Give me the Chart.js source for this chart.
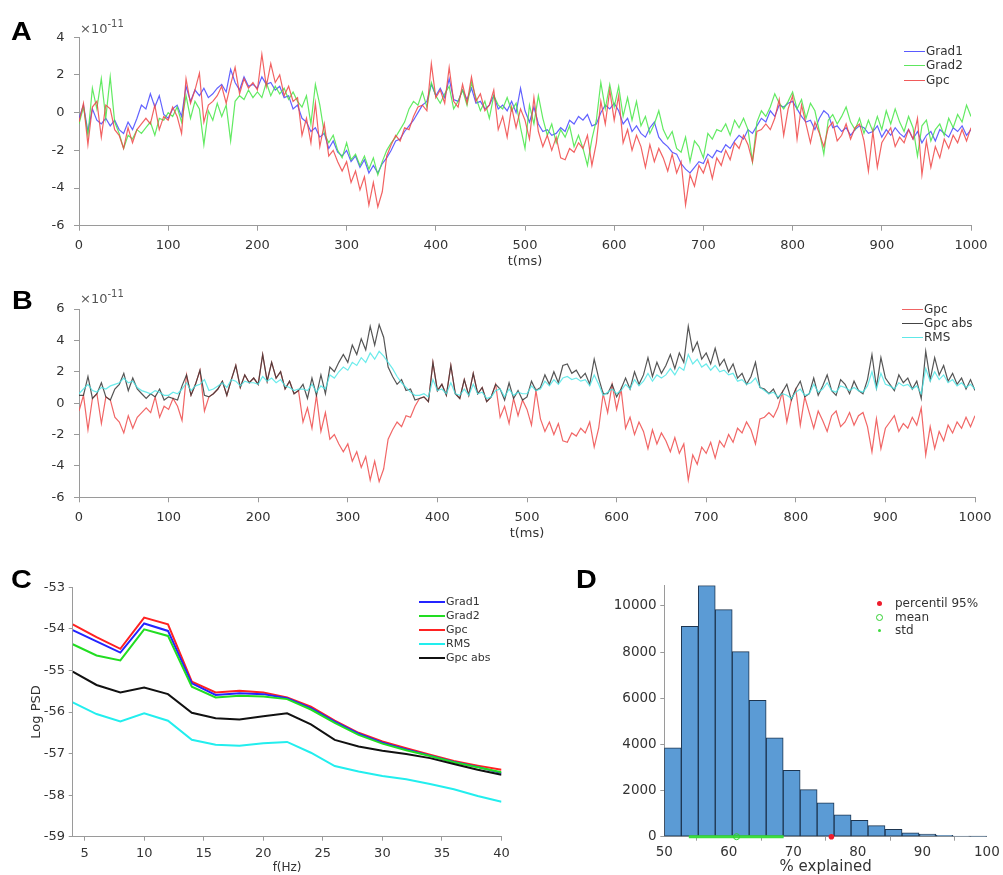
<!DOCTYPE html>
<html>
<head>
<meta charset="utf-8">
<script src="https://cdn.jsdelivr.net/npm/chart.js@4.4.1/dist/chart.umd.min.js"></script>
<style>
html,body{margin:0;padding:0;width:1003px;height:875px;overflow:hidden;background:#fff;}
canvas{position:absolute;left:0;top:0;}
.ov{position:absolute;white-space:nowrap;font-family:'DejaVu Sans',sans-serif;color:#333;}
.letter{position:absolute;font-family:'Liberation Sans',Arial,sans-serif;font-weight:bold;font-size:25px;line-height:25px;color:#000;transform:scaleX(1.15);transform-origin:left top;}
</style>
</head>
<body>
<canvas id="cA" width="1003" height="900"></canvas>
<canvas id="cB" width="1003" height="900"></canvas>
<canvas id="cC" width="1003" height="900"></canvas>
<canvas id="cD" width="1003" height="900"></canvas>
<div id="ov"></div>
<script>
// ---------- time axis (ms) ----------
const tMs = [
0,5,10,15,20,25,30,35,40,45,50,55,60,65,70,75,80,85,90,95,
100,105,110,115,120,125,130,135,140,145,150,155,160,165,170,175,180,185,190,195,
200,205,210,215,220,225,230,235,240,245,250,255,260,265,270,275,280,285,290,295,
300,305,310,315,320,325,330,335,340,345,350,355,360,365,370,375,380,385,390,395,
400,405,410,415,420,425,430,435,440,445,450,455,460,465,470,475,480,485,490,495,
500,505,510,515,520,525,530,535,540,545,550,555,560,565,570,575,580,585,590,595,
600,605,610,615,620,625,630,635,640,645,650,655,660,665,670,675,680,685,690,695,
700,705,710,715,720,725,730,735,740,745,750,755,760,765,770,775,780,785,790,795,
800,805,810,815,820,825,830,835,840,845,850,855,860,865,870,875,880,885,890,895,
900,905,910,915,920,925,930,935,940,945,950,955,960,965,970,975,980,985,990,995,1000];

// ---------- panel A/B series (x 1e-11) ----------
const gpc = [
-0.5,0.5,-1.7,0.3,0.6,-1.3,0.4,0.2,-0.9,-1.2,-1.9,-0.8,-1.6,-0.9,-0.6,-0.3,-0.6,0.4,-0.9,-0.2,
-0.4,0.3,-0.2,-1.1,1.8,0.5,1.2,2.1,-0.5,0.4,0.6,0.9,1.4,0.5,1.5,2.4,1.0,1.8,1.3,1.6,
1.2,3.1,1.4,2.6,1.6,2.0,0.9,1.4,0.6,0.8,-1.2,-0.3,-1.6,0.5,-1.8,-0.6,-2.3,-2.0,-2.6,-3.1,
-2.6,-3.7,-3.1,-4.1,-3.4,-4.9,-3.7,-5.0,-4.2,-2.3,-1.7,-1.2,-1.5,-0.8,-0.9,-0.2,0.3,0.4,0.1,2.6,
0.8,1.2,0.5,2.4,0.6,0.3,1.5,0.5,1.9,0.6,1.0,0.1,0.4,1.2,-0.9,-0.2,-1.3,0.3,-0.8,0.2,
-0.4,-1.4,0.8,-1.0,-1.8,-1.2,-2.0,-1.3,-2.4,-2.5,-1.9,-2.1,-1.6,-1.9,-1.2,-2.8,-1.6,0.6,-0.6,1.2,
-0.4,0.9,-1.6,-0.9,-2.0,-1.2,-1.8,-2.9,-1.7,-2.6,-1.9,-2.4,-3.1,-2.2,-3.2,-2.6,-4.9,-3.3,-3.9,-2.8,
-3.2,-2.5,-3.5,-2.4,-2.8,-2.0,-2.5,-1.6,-1.9,-1.2,-1.7,-2.6,-1.0,-0.9,-0.6,-0.9,-0.3,0.7,-1.2,0.2,
0.9,-1.4,0.4,-0.6,-1.6,-0.5,-1.1,-1.8,-0.8,-0.5,-1.5,-1.2,-0.6,-1.4,-0.8,-0.6,-1.5,-3.1,-1.0,-2.9,
-1.6,-1.2,-0.8,-1.8,-1.3,-1.6,-0.9,-1.4,-0.3,-3.3,-1.5,-2.9,-1.8,-2.4,-1.4,-1.9,-1.2,-1.6,-0.9,-1.5,-0.8];

const gpcAbs = [
0.5,0.5,1.7,0.3,0.6,1.3,0.4,0.2,0.9,1.2,1.9,0.8,1.6,0.9,0.6,0.3,0.6,0.4,0.9,0.2,
0.4,0.3,0.2,1.1,1.8,0.5,1.2,2.1,0.5,0.4,0.6,0.9,1.4,0.5,1.5,2.4,1.0,1.8,1.3,1.6,
1.2,3.1,1.4,2.6,1.6,2.0,0.9,1.4,0.6,0.8,1.2,0.3,1.6,0.5,1.8,0.6,2.3,2.0,2.6,3.1,
2.6,3.7,3.1,4.1,3.4,4.9,3.7,5.0,4.2,2.3,1.7,1.2,1.5,0.8,0.9,0.2,0.3,0.4,0.1,2.6,
0.8,1.2,0.5,2.4,0.6,0.3,1.5,0.5,1.9,0.6,1.0,0.1,0.4,1.2,0.9,0.2,1.3,0.3,0.8,0.2,
0.4,1.4,0.8,1.0,1.8,1.2,2.0,1.3,2.4,2.5,1.9,2.1,1.6,1.9,1.2,2.8,1.6,0.6,0.6,1.2,
0.4,0.9,1.6,0.9,2.0,1.2,1.8,2.9,1.7,2.6,1.9,2.4,3.1,2.2,3.2,2.6,4.9,3.3,3.9,2.8,
3.2,2.5,3.5,2.4,2.8,2.0,2.5,1.6,1.9,1.2,1.7,2.6,1.0,0.9,0.6,0.9,0.3,0.7,1.2,0.2,
0.9,1.4,0.4,0.6,1.6,0.5,1.1,1.8,0.8,0.5,1.5,1.2,0.6,1.4,0.8,0.6,1.5,3.1,1.0,2.9,
1.6,1.2,0.8,1.8,1.3,1.6,0.9,1.4,0.3,3.3,1.5,2.9,1.8,2.4,1.4,1.9,1.2,1.6,0.9,1.5,0.8];

const grad1 = [
-0.3,0.4,-1.0,0.2,-0.4,-0.6,-0.3,-0.7,-0.4,-0.9,-1.1,-0.5,-0.9,-0.3,0.4,0.2,1.0,0.3,0.9,-0.1,
-0.3,0.2,0.4,-0.2,1.4,0.6,1.2,0.9,1.3,0.8,1.0,1.3,1.5,1.1,2.3,1.6,1.2,1.9,1.4,1.5,
1.3,1.9,1.5,1.6,1.2,1.4,0.8,0.9,0.2,0.4,-0.3,-0.5,-1.0,-0.8,-1.3,-1.1,-1.9,-1.5,-2.1,-2.3,
-2.0,-2.6,-2.3,-2.9,-2.5,-3.2,-2.8,-3.2,-2.7,-2.4,-2.0,-1.5,-1.4,-1.0,-0.7,-0.4,0.0,0.4,0.6,1.5,
0.9,1.3,0.8,1.8,0.7,0.6,1.2,0.7,1.3,0.5,0.6,0.2,0.4,0.9,0.2,0.4,0.1,0.6,0.0,1.3,
0.1,-0.5,0.3,-0.6,-1.0,-0.9,-1.2,-1.1,-0.8,-1.0,-0.4,-0.6,-0.2,-0.4,-0.1,-0.7,-0.6,0.0,0.4,0.2,
0.5,0.1,-0.6,-0.3,-1.0,-0.7,-1.1,-1.3,-0.8,-0.5,-1.3,-1.6,-1.8,-2.1,-2.2,-2.7,-3.0,-3.2,-2.9,-2.6,
-2.7,-2.2,-2.4,-2.0,-2.1,-1.7,-1.9,-1.5,-1.2,-1.4,-0.9,-1.1,-0.7,-0.3,-0.5,0.1,-0.2,0.4,0.3,0.5,
0.6,0.2,-0.2,-0.5,-0.4,-0.9,-0.3,0.1,-0.1,-0.8,-0.7,-1.0,-0.8,-1.2,-0.9,-0.7,-0.8,-1.1,-1.0,-0.7,
-1.3,-0.9,-1.2,-0.8,-1.1,-1.3,-0.9,-1.4,-1.0,-1.6,-1.2,-1.0,-1.5,-0.9,-1.1,-1.3,-0.8,-1.0,-0.7,-1.2,-0.9];

const grad2 = [
-0.6,0.3,-1.2,1.3,0.2,1.8,-0.3,1.9,-0.5,-1.1,-1.9,-1.2,-1.4,-0.9,-1.1,-0.8,-0.5,-1.2,-0.3,-0.4,
0.0,-0.2,0.3,-0.5,0.9,-0.3,0.6,0.2,-1.7,0.1,-0.4,0.5,-0.2,0.4,-1.5,0.6,0.9,0.7,1.2,0.8,
1.1,0.8,1.6,0.9,1.4,1.0,1.3,0.7,1.1,0.6,0.3,0.9,-0.6,1.5,0.4,-1.1,-1.6,-1.2,-2.0,-2.4,
-1.6,-2.5,-2.2,-2.8,-2.3,-3.0,-2.4,-3.3,-2.6,-2.0,-1.6,-1.3,-0.9,-0.5,0.2,0.6,0.4,1.1,0.3,1.6,
0.9,0.5,1.0,1.4,0.2,0.6,1.2,0.4,1.6,0.8,0.1,0.6,-0.3,0.9,0.4,0.2,0.8,0.1,0.5,-0.8,
-1.9,0.4,-0.6,0.9,-0.3,-1.2,-0.6,-1.6,-0.9,-1.3,-0.7,-1.8,-1.2,-1.9,-2.8,-1.4,-0.4,1.6,0.2,1.5,
0.3,1.4,-0.2,0.8,-0.4,0.6,-0.7,-0.2,-1.1,-0.6,0.1,-0.9,-1.4,-1.0,-1.9,-2.1,-1.3,-2.6,-1.5,-1.8,
-2.4,-1.1,-1.4,-0.9,-1.0,-0.6,-1.2,-0.4,-0.8,-0.3,-0.9,-2.6,-0.5,0.1,-0.2,0.3,1.0,0.5,0.2,0.6,
1.1,0.2,0.7,-0.3,0.5,0.1,-1.0,-2.2,-0.4,-0.1,-0.6,-0.2,0.3,-0.5,-0.9,-0.3,-1.1,-0.4,-1.0,-0.2,
-0.9,0.1,-0.6,0.2,-0.5,-1.0,-0.2,-0.8,-2.3,-0.7,-0.4,-1.5,-0.9,-0.6,-1.2,-0.3,-0.8,-0.1,-0.5,0.4,-0.2];

const rms = [
0.6,0.9,1.2,0.8,0.7,1.0,0.9,1.1,1.2,1.3,1.6,1.3,1.4,1.0,0.8,0.7,0.6,0.8,0.7,0.5,
0.5,0.7,0.6,0.9,1.3,0.8,1.1,1.2,1.5,0.8,0.9,1.1,1.3,1.0,1.5,1.4,1.1,1.4,1.3,1.3,
1.2,1.7,1.4,1.6,1.3,1.5,1.1,1.0,0.8,0.9,0.9,0.8,1.2,0.7,1.1,0.9,1.8,1.6,2.0,2.3,
2.1,2.6,2.4,2.9,2.6,3.2,2.8,3.3,3.0,2.6,2.2,1.7,1.3,1.0,0.7,0.5,0.5,0.6,0.4,1.5,
0.8,0.9,0.6,1.3,0.6,0.5,0.9,0.5,1.2,0.6,0.7,0.3,0.4,0.8,0.9,0.4,0.9,0.5,0.7,0.6,
0.6,1.1,0.8,0.9,1.4,1.1,1.5,1.2,1.6,1.7,1.5,1.6,1.4,1.5,1.1,1.8,1.2,0.5,0.7,0.9,
0.6,0.8,1.2,0.9,1.5,1.1,1.4,1.9,1.4,1.8,1.6,1.8,2.2,1.8,2.3,2.1,3.1,2.5,2.8,2.3,
2.5,2.1,2.4,2.0,2.1,1.8,1.9,1.4,1.5,1.2,1.3,1.6,1.0,0.8,0.6,0.7,0.4,0.6,0.5,0.3,
0.7,0.9,0.5,0.6,1.2,0.7,0.9,1.3,0.8,0.7,1.1,1.0,0.8,1.0,0.8,0.7,1.1,2.0,0.9,1.9,
1.2,1.1,0.9,1.3,1.1,1.2,0.9,1.1,0.6,2.2,1.4,2.0,1.5,1.8,1.3,1.5,1.1,1.3,1.0,1.2,0.9];

const timeTicks = [0,100,200,300,400,500,600,700,800,900,1000];
const aYTicks = [-6,-4,-2,0,2,4];
const bYTicks = [-6,-4,-2,0,2,4,6];

// ---------- panel C (PSD) ----------
const cFreq = [4,6,8,10,12,14,16,18,20,22,24,26,28,30,32,34,36,38,40];
const cGrad1 = [-54.03,-54.30,-54.57,-53.87,-54.05,-55.31,-55.59,-55.55,-55.57,-55.67,-55.91,-56.23,-56.52,-56.74,-56.90,-57.05,-57.20,-57.32,-57.47];
const cGrad2 = [-54.37,-54.64,-54.76,-54.01,-54.17,-55.39,-55.65,-55.61,-55.63,-55.69,-55.94,-56.26,-56.55,-56.76,-56.92,-57.06,-57.21,-57.33,-57.45];
const cGpc = [-53.89,-54.20,-54.48,-53.73,-53.89,-55.27,-55.53,-55.49,-55.53,-55.65,-55.87,-56.21,-56.50,-56.71,-56.87,-57.03,-57.18,-57.29,-57.39];
const cRMS = [-55.77,-56.05,-56.23,-56.03,-56.21,-56.67,-56.79,-56.81,-56.75,-56.72,-56.98,-57.30,-57.43,-57.54,-57.62,-57.73,-57.86,-58.02,-58.16];
const cGpcAbs = [-55.03,-55.35,-55.53,-55.41,-55.57,-56.02,-56.15,-56.18,-56.10,-56.03,-56.30,-56.67,-56.83,-56.93,-57.01,-57.11,-57.25,-57.39,-57.51];
const cXTicks = [5,10,15,20,25,30,35,40];
const cYTicks = [-59,-58,-57,-56,-55,-54,-53];

// ---------- panel D (histogram) ----------
const dBinCenters = [51.32,53.95,56.58,59.21,61.84,64.47,67.11,69.74,72.37,75.00,77.63,80.26,82.89,85.53,88.16,90.79,93.42,96.05,98.68];
const dCounts = [3850,9120,10880,9840,8020,5910,4280,2880,2040,1470,950,710,480,320,170,115,55,30,15];
const dPercentile95 = [75.9];
const dMean = [61.2];
const dStdRange = [53.8,68.5];
const dXTicks = [50,60,70,80,90,100];
const dYTicks = [0,2000,4000,6000,8000,10000];

// ---------- helpers ----------
Chart.defaults.font.family = "'DejaVu Sans', sans-serif";
Chart.defaults.color = '#333';
const AX = '#9a9a9a';
const plain = v => String(v);

function xAxis(min, max, ticks, title, h, tl, pad, fs, tfs) {
  return {
    type: 'linear', min, max, offset: false,
    afterBuildTicks: s => { s.ticks = ticks.map(v => ({value: v})); },
    afterFit: s => { s.height = h; },
    grid: {display: true, drawOnChartArea: false, drawTicks: true, tickLength: tl, color: AX},
    border: {display: true, color: AX, width: 1},
    ticks: {autoSkip: false, maxRotation: 0, minRotation: 0, padding: pad, color: '#333', font: {size: fs}, callback: plain},
    title: {display: !!title, text: title, color: '#333', font: {size: tfs}, padding: 0}
  };
}
function yAxis(min, max, ticks, w, tl, pad, fs, title, tfs) {
  return {
    type: 'linear', min, max,
    afterBuildTicks: s => { s.ticks = ticks.map(v => ({value: v})); },
    afterFit: s => { s.width = w; },
    grid: {display: true, drawOnChartArea: false, drawTicks: true, tickLength: tl, color: AX},
    border: {display: true, color: AX, width: 1},
    ticks: {autoSkip: false, padding: pad, color: '#333', font: {size: fs}, callback: plain},
    title: {display: !!title, text: title || '', color: '#333', font: {size: tfs || 13}, padding: 0}
  };
}
const baseOpts = (pad) => ({
  responsive: false, animation: false, events: [],
  layout: {padding: pad},
  plugins: {legend: {display: false}, tooltip: {enabled: false}},
  elements: {point: {radius: 0}, line: {tension: 0, borderWidth: 1}}
});

// ---------- colours ----------
const colA = {grad1: 'rgba(70,70,255,0.85)', grad2: 'rgba(70,230,70,0.85)', gpc: 'rgba(240,70,70,0.85)'};
const colB = {gpc: 'rgba(240,85,85,0.9)', abs: 'rgba(55,55,55,0.85)', rms: 'rgba(70,230,230,0.8)'};
const colC = {grad1: '#2424ff', grad2: '#22dd22', gpc: '#ff2222', rms: '#22eeee', abs: '#111111'};
const legA = {grad1: '#5a5aff', grad2: '#5ee65e', gpc: '#f05a5a'};
const legB = {gpc: '#f06464', abs: '#444444', rms: '#5ee8e8'};
const LW = 1.2;

// ---------- Panel A ----------
new Chart(document.getElementById('cA'), {
  type: 'line',
  data: {labels: tMs, datasets: [
    {label: 'Grad1', data: grad1, borderColor: colA.grad1, borderWidth: LW, order: 2},
    {label: 'Grad2', data: grad2, borderColor: colA.grad2, borderWidth: LW, order: 1},
    {label: 'Gpc', data: gpc, borderColor: colA.gpc, borderWidth: LW, order: 0}
  ]},
  options: Object.assign(baseOpts({left: 29, right: 32, top: 37.3, bottom: 630.2}), {
    scales: {
      x: xAxis(0, 1000, timeTicks, 't(ms)', 44.1, 5, 7.5, 13, 13),
      y: yAxis(-6, 4, aYTicks, 50, 5, 9.5, 13)
    }
  })
});

// ---------- Panel B ----------
new Chart(document.getElementById('cB'), {
  type: 'line',
  data: {labels: tMs, datasets: [
    {label: 'Gpc', data: gpc, borderColor: colB.gpc, borderWidth: LW, order: 2},
    {label: 'Gpc abs', data: gpcAbs, borderColor: colB.abs, borderWidth: LW, order: 1},
    {label: 'RMS', data: rms, borderColor: colB.rms, borderWidth: LW, order: 0}
  ]},
  options: Object.assign(baseOpts({left: 29, right: 28, top: 309, bottom: 358.2}), {
    scales: {
      x: xAxis(0, 1000, timeTicks, 't(ms)', 44.5, 5, 7.5, 13, 13),
      y: yAxis(-6, 6, bYTicks, 50, 5, 9.5, 13)
    }
  })
});

// ---------- Panel C ----------
new Chart(document.getElementById('cC'), {
  type: 'line',
  data: {labels: cFreq, datasets: [
    {label: 'Grad1', data: cGrad1, borderColor: colC.grad1, borderWidth: 2, order: 3},
    {label: 'Grad2', data: cGrad2, borderColor: colC.grad2, borderWidth: 2, order: 2},
    {label: 'Gpc', data: cGpc, borderColor: colC.gpc, borderWidth: 2, order: 4},
    {label: 'RMS', data: cRMS, borderColor: colC.rms, borderWidth: 2, order: 1},
    {label: 'Gpc abs', data: cGpcAbs, borderColor: colC.abs, borderWidth: 2, order: 0}
  ]},
  options: Object.assign(baseOpts({left: 28.9, right: 501.5, top: 587.3, bottom: 24.8}), {
    scales: {
      x: xAxis(4, 40, cXTicks, 'f(Hz)', 38.5, 4, 5, 13, 12),
      y: yAxis(-59, -53, cYTicks, 43.8, 4, 3.7, 13, 'Log PSD', 13)
    }
  })
});

// ---------- Panel D ----------
new Chart(document.getElementById('cD'), {
  type: 'bar',
  data: {datasets: [
    {type: 'line', label: 'std', data: dStdRange.map(v => ({x: v, y: 0})), borderColor: '#3ddc3d', borderWidth: 3, pointRadius: 0, clip: false, order: 1},
    {type: 'scatter', label: 'mean', data: dMean.map(v => ({x: v, y: 0})), pointRadius: 3, pointBorderWidth: 1, pointBackgroundColor: 'rgba(255,255,255,0)', pointBorderColor: '#2fcf2f', clip: false, order: 0},
    {type: 'scatter', label: 'percentil 95%', data: dPercentile95.map(v => ({x: v, y: 0})), pointRadius: 2.8, pointBorderWidth: 0, pointBackgroundColor: '#ee1c2c', pointBorderColor: '#ee1c2c', clip: false, order: 0},
    {type: 'bar', label: 'count', data: dBinCenters.map((c, i) => ({x: c, y: dCounts[i]})),
     backgroundColor: '#5b9bd5', borderColor: '#1d3550', borderWidth: 1, borderSkipped: false,
     barPercentage: 1, categoryPercentage: 1, order: 5}
  ]},
  options: Object.assign(baseOpts({left: 584.3, right: 14.7, top: 585.2, bottom: 23.5}), {
    scales: {
      x: xAxis(50, 100, dXTicks, '% explained', 39.8, 4, 3.2, 13.5, 15),
      y: yAxis(0, 10900, dYTicks, 80, 4, 3.6, 13.5)
    }
  })
});

// ---------- overlay text: letters, exponents, legends ----------
const ov = document.getElementById('ov');
function add(html, css, cls) {
  const d = document.createElement('div');
  d.className = cls || 'ov';
  d.innerHTML = html;
  d.style.cssText += css;
  ov.appendChild(d);
  return d;
}
add('A', 'left:11px;top:19px;', 'letter');
add('B', 'left:12px;top:288px;', 'letter');
add('C', 'left:11px;top:567px;', 'letter');
add('D', 'left:576px;top:567px;', 'letter');

function expo(x, baseline) {
  add('&times;10<span style="font-size:10px;position:relative;top:-6px;">-11</span>',
      `left:${x}px;top:${baseline - 11}px;font-size:13px;line-height:13px;color:#555;`);
}
expo(80, 33);
expo(80, 303);

function legendLines(x, y0, dy, items, len, lw, fs) {
  items.forEach((it, i) => {
    const cy = y0 + i * dy;
    add('', `left:${x}px;top:${Math.round(cy - lw / 2)}px;width:${len}px;height:${lw}px;background:${it.c};`);
    add(it.t, `left:${x + len + 1}px;top:${cy - fs * 0.62}px;font-size:${fs}px;line-height:${fs * 1.2}px;`);
  });
}
legendLines(904, 51.7, 14.2, [{t: 'Grad1', c: legA.grad1}, {t: 'Grad2', c: legA.grad2}, {t: 'Gpc', c: legA.gpc}], 21, 1, 12);
legendLines(902, 309.3, 14, [{t: 'Gpc', c: legB.gpc}, {t: 'Gpc abs', c: legB.abs}, {t: 'RMS', c: legB.rms}], 21, 1, 12);
legendLines(419, 602.3, 13.8, [{t: 'Grad1', c: colC.grad1}, {t: 'Grad2', c: colC.grad2}, {t: 'Gpc', c: colC.gpc}, {t: 'RMS', c: colC.rms}, {t: 'Gpc abs', c: colC.abs}], 26, 2, 11);

// panel D legend
const dLeg = [
  {t: 'percentil 95%', css: 'width:5px;height:5px;border-radius:50%;background:#ee1c2c;'},
  {t: 'mean', css: 'width:5px;height:5px;border-radius:50%;border:1px solid #2fcf2f;'},
  {t: 'std', css: 'width:3px;height:3px;border-radius:50%;background:#3ddc3d;'}
];
dLeg.forEach((it, i) => {
  const cy = 603.3 + i * 13.8;
  const sz = i === 1 ? 7 : (i === 2 ? 3 : 5);
  add('', `left:${879.5 - sz / 2}px;top:${cy - sz / 2}px;` + it.css);
  add(it.t, `left:895px;top:${cy - 12 * 0.62}px;font-size:12px;line-height:14.4px;`);
});
</script>
</body>
</html>
